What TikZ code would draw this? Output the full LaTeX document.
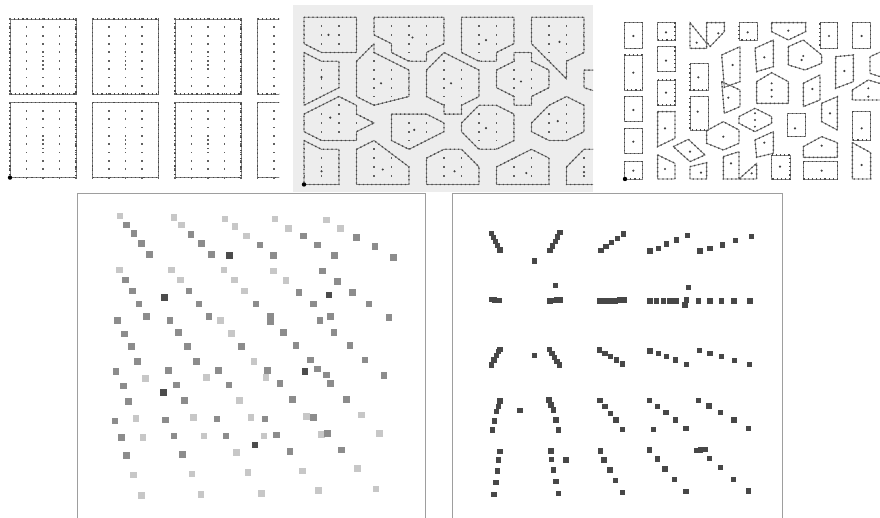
\documentclass[tikz,border=0pt]{standalone}
\usepackage{tikz}
\tikzset{
  griddot/.style={fill=black!62},
  celledge/.style={draw=black!50, line width=0.9pt,
                   postaction={draw=black!72, line width=1.4pt, dash pattern=on 1.2pt off 3pt}},
  seed/.style={fill=black!75},
  origin/.style={fill=black},
  framebox/.style={draw=black!38, line width=0.9pt},
  blob/.style={fill=black!72}
}
\newcommand{\vcell}[1]{%
  \begin{scope}
    \clip #1 -- cycle;
    \foreach \i in {0,...,16}{\foreach \j in {0,...,19}{%
      \fill[griddot] (\i,\j) ++(-0.9pt,-0.9pt) rectangle ++(1.8pt,1.8pt);}}
  \end{scope}
  \draw[celledge] #1 -- cycle;}
\newcommand{\pcell}[2]{\draw[celledge] #1 -- cycle; \fill[seed] #2 circle (1.2pt);}

\begin{document}
\begin{tikzpicture}[x=1pt, y=-1pt]
  \useasboundingbox (0,0) rectangle (880,518);

  \begin{scope}
    \clip (0,0) rectangle (279,190);
    \foreach \k in {0,...,3}{\foreach \m in {0,1}{
      \draw[celledge] ({10+82.5*\k},{19+83.5*\m}) rectangle ++(66,75.2);
      \foreach \e in {4.5,5.5}
        \fill[griddot] ({10+82.5*\k+33},{19+83.5*\m+8.35*\e}) ++(-0.9pt,-0.9pt) rectangle ++(1.8pt,1.8pt);
    }}
    \foreach \i in {0,...,16}{\foreach \j in {0,...,19}{
      \fill[griddot] ({10+16.5*\i},{19+8.35*\j}) ++(-0.9pt,-0.9pt) rectangle ++(1.8pt,1.8pt);}}
    \fill[origin] (10,177.6) circle (2.2pt);
  \end{scope}

  \fill[black!7] (293,5) rectangle (593,192);
  \begin{scope}
    \clip (293,5) rectangle (593,192);
    \begin{scope}[shift={(304,17.3)}, x=17.5pt, y=-8.8pt]
      \vcell{(0,0)--(3,0)--(3,4)--(1,4)--(0,3)}
      \vcell{(4,0)--(8,0)--(8,3)--(7,4)--(7,5)--(6,5)--(5,4)--(5,3)--(4,2)}
      \vcell{(9,0)--(12,0)--(12,3)--(11,4)--(11,5)--(10,5)--(9,4)}
      \vcell{(13,0)--(16,0)--(16,4)--(15,5)--(15,7)--(13,3)}
      \vcell{(0,4)--(1,5)--(2,5)--(2,8)--(0,10)}
      \vcell{(3,5)--(4,3)--(4,4)--(6,6)--(6,9)--(4,10)--(3,9)}
      \vcell{(7,6)--(8,4)--(10,6)--(10,9)--(9,10)--(9,11)--(8,11)--(8,10)--(7,9)}
      \vcell{(11,6)--(12,5)--(12,4)--(13,4)--(13,5)--(14,6)--(14,8)--(13,9)--(13,10)--(12,10)--(12,9)--(11,8)}
      \vcell{(16.8,6)--(16,6)--(16,8)--(16.8,8.5)}
      \vcell{(0,11)--(2,9)--(3,10)--(3,11)--(4,12)--(3,13)--(3,14)--(1,14)--(0,13)}
      \vcell{(5,11)--(7,11)--(8,12)--(8,13)--(6,15)--(5,14)}
      \vcell{(9,12)--(10,10)--(11,10)--(12,11)--(12,14)--(11,15)--(10,15)--(9,13)}
      \vcell{(13,12)--(14,10)--(15,9)--(16,10)--(16,13)--(15,14)--(14,14)--(13,13)}
      \vcell{(0,14)--(1,15)--(2,15)--(2,19)--(0,19)}
      \vcell{(3,15)--(4,14)--(6,17)--(6,19)--(3,19)}
      \vcell{(7,16)--(8,15)--(9,15)--(10,17)--(10,19)--(7,19)}
      \vcell{(11,17)--(13,15)--(14,16)--(14,19)--(11,19)}
      \vcell{(15,17)--(16,15)--(16.8,15)--(16.8,19)--(15,19)}
      \foreach \sx/\sy in {1.4/2, 6.2/2.3, 10.4/2.6, 14.6/2.8, 1/6.8, 4.4/7.5, 8.4/7.5, 12.4/7.3,
                           1.5/11.4, 6.3/12.8, 10.4/12.6, 14.5/11.8, 1/17.5, 4.5/17.3, 8.6/17.5, 12.7/17.7, 16/17.6}
        \fill[seed] (\sx,\sy) circle (1.2pt);
      \fill[origin] (0,19) circle (2.2pt);
    \end{scope}
  \end{scope}

  \begin{scope}
    \clip (600,0) rectangle (880,190);
    \begin{scope}[shift={(595,0)}, x=0.3333pt, y=-0.3333pt]
      \pcell{(88,68)--(142,68)--(142,145)--(88,145)}{(115,108)}
      \pcell{(188,68)--(240,68)--(240,120)--(188,120)}{(213,97)}
      \pcell{(285,68)--(335,130)--(335,145)--(285,145)}{(305,128)}
      \pcell{(335,68)--(388,68)--(388,95)--(345,140)--(335,125)}{(370,100)}
      \pcell{(432,68)--(487,68)--(487,120)--(432,120)}{(458,97)}
      \pcell{(530,68)--(632,68)--(632,95)--(580,120)--(530,95)}{(580,92)}
      \pcell{(675,68)--(727,68)--(727,145)--(675,145)}{(702,108)}
      \pcell{(772,68)--(827,68)--(827,145)--(772,145)}{(800,108)}
      \pcell{(88,165)--(142,165)--(142,270)--(88,270)}{(115,218)}
      \pcell{(188,140)--(240,140)--(240,215)--(188,215)}{(213,182)}
      \pcell{(285,190)--(340,190)--(340,270)--(285,270)}{(310,232)}
      \pcell{(380,165)--(435,140)--(435,245)--(388,262)}{(413,195)}
      \pcell{(480,145)--(535,120)--(535,200)--(485,215)}{(508,172)}
      \pcell{(580,140)--(625,120)--(680,165)--(680,190)--(630,210)--(580,195)}{(620,180)}
      \pcell{(722,170)--(775,165)--(775,245)--(722,265)}{(748,213)}
      \pcell{(870,150)--(825,170)--(825,220)--(870,235)}{(900,0)}
      \pcell{(88,290)--(142,290)--(142,365)--(88,365)}{(115,330)}
      \pcell{(188,240)--(240,240)--(240,315)--(188,315)}{(213,278)}
      \pcell{(285,290)--(340,290)--(340,390)--(285,390)}{(308,335)}
      \pcell{(380,245)--(435,270)--(435,320)--(388,340)}{(400,293)}
      \pcell{(485,245)--(530,218)--(580,245)--(580,310)--(485,310)}{(530,270)}
      \pcell{(625,250)--(675,225)--(675,300)--(625,320)}{(652,267)}
      \pcell{(680,310)--(727,290)--(727,390)--(680,365)}{(705,340)}
      \pcell{(772,270)--(820,240)--(870,255)--(870,300)--(772,300)}{(820,290)}
      \pcell{(88,385)--(142,385)--(142,460)--(88,460)}{(115,425)}
      \pcell{(188,335)--(240,335)--(240,415)--(188,440)}{(210,385)}
      \pcell{(235,440)--(280,418)--(330,465)--(285,485)}{(285,455)}
      \pcell{(335,392)--(385,365)--(432,390)--(432,430)--(385,450)--(335,430)}{(385,410)}
      \pcell{(432,350)--(480,325)--(530,350)--(530,370)--(480,395)--(432,370)}{(480,360)}
      \pcell{(480,420)--(535,395)--(535,460)--(485,472)}{(508,428)}
      \pcell{(578,340)--(632,340)--(632,410)--(578,410)}{(600,385)}
      \pcell{(625,440)--(680,410)--(727,428)--(727,472)--(625,472)}{(680,437)}
      \pcell{(772,335)--(827,335)--(827,420)--(772,420)}{(800,385)}
      \pcell{(88,485)--(142,485)--(142,537)--(88,537)}{(115,512)}
      \pcell{(188,465)--(240,490)--(240,537)--(188,537)}{(210,507)}
      \pcell{(285,500)--(335,488)--(335,537)--(285,537)}{(318,518)}
      \pcell{(385,470)--(432,455)--(432,537)--(385,537)}{(408,490)}
      \pcell{(432,537)--(485,490)--(485,537)}{(470,520)}
      \pcell{(530,465)--(585,465)--(585,537)--(530,537)}{(555,500)}
      \pcell{(625,485)--(727,485)--(727,537)--(625,537)}{(680,512)}
      \pcell{(772,428)--(827,458)--(827,537)--(772,537)}{(800,495)}
      \foreach \sx/\sy in {530/250, 530/290, 480/340, 480/380, 625/168, 820/265}
        \fill[seed] (\sx,\sy) circle (1.1pt);
      \fill[origin] (90,537) circle (2.2pt);
    \end{scope}
  \end{scope}

  \draw[framebox] (77,520) |- (425,193) -- (425,520);
  \begin{scope}[shift={(75,190)}, x=0.3333pt, y=-0.3333pt]
    \foreach \px/\py/\g in {
      135/78/22, 155/105/45, 177/130/45, 200/160/45, 223/193/45,
      297/83/22, 320/105/22, 348/133/45, 380/160/45, 410/193/45, 463/197/70,
      450/87/22, 480/110/22, 515/138/22, 555/165/45, 595/197/45,
      600/87/22, 640/115/22, 685/138/45, 727/165/45, 778/197/45,
      755/90/22, 797/115/22, 845/142/45, 900/170/45, 955/202/45,
      133/240/22, 152/270/45, 172/303/45, 192/342/45, 215/380/45, 268/323/70,
      290/240/22, 317/270/22, 342/303/45, 372/342/45, 402/380/45, 437/392/22,
      447/240/22, 478/270/22, 508/303/22, 543/342/45, 587/380/45, 587/395/45,
      595/243/22, 633/272/22, 672/308/45, 715/342/45, 762/315/70, 735/392/45,
      742/243/45, 787/275/45, 832/307/45, 882/342/45, 942/382/45, 767/380/45,
      128/392/45, 148/432/45, 170/470/45, 187/515/45,
      285/392/45, 310/428/45, 337/470/45, 365/515/45,
      470/430/22, 500/470/45, 537/515/22,
      625/428/45, 663/467/45, 707/510/45, 777/428/45, 825/467/45, 870/510/45,
      123/545/45, 145/588/45, 160/635/45, 211/565/22,
      280/542/45, 305/585/45, 328/632/45, 265/607/70,
      395/562/22, 430/542/45, 462/585/45, 493/632/22,
      578/542/45, 573/562/22, 615/580/45, 652/628/45,
      690/545/70, 727/537/45, 755/555/45, 767/580/45, 815/628/45, 927/557/45,
      120/693/45, 140/742/45, 155/797/45, 176/855/22, 200/917/22,
      183/686/22, 204/742/22,
      272/690/45, 297/738/45, 322/793/45, 351/852/22, 378/913/22,
      355/683/22, 387/738/22,
      426/687/45, 453/738/45, 540/765/70, 485/788/22, 519/848/22, 560/910/22,
      528/683/22, 570/687/45, 567/738/22, 605/735/45, 645/785/45, 683/843/22, 731/902/22,
      694/680/22, 715/683/45, 740/733/22, 758/730/45, 800/780/45, 847/835/22, 903/897/22,
      860/675/22, 914/730/22}
      \fill[black!\g] (\px,\py) ++(-3.3pt,-3.3pt) rectangle ++(6.6pt,6.6pt);
  \end{scope}

  \draw[framebox] (452,520) |- (782,193) -- (782,520);
  \begin{scope}[shift={(450,190)}, x=0.3333pt, y=-0.3333pt]
    \foreach \px/\py in {
      125/130, 131/143, 137/155, 143/167, 150/180,
      330/127, 323/141, 316/155, 308/168, 300/182, 253/213,
      453/182, 468/170, 485/158, 503/146, 520/132,
      600/183, 625/175, 650/162, 680/150, 713/137,
      750/183, 780/175, 817/165, 857/152, 905/140,
      125/328, 133/330, 140/332, 148/332,
      317/287, 300/333, 310/332, 320/330, 330/330,
      450/333, 465/333, 480/333, 495/333, 510/330, 522/330,
      600/333, 620/333, 640/333, 660/333, 678/333, 705/345, 710/330, 716/293,
      745/333, 780/333, 815/333, 852/333, 900/333,
      125/525, 132/510, 139/497, 146/485, 150/478, 253/497,
      298/478, 306/490, 314/502, 321/514, 328/525,
      448/480, 465/490, 482/500, 500/510, 518/522,
      600/483, 625/490, 650/500, 677/510, 710/523,
      748/482, 780/490, 815/500, 853/512, 898/523,
      150/633, 145/650, 140/665, 133/693, 128/720, 210/662,
      297/630, 303/645, 310/660, 318/690, 325/720,
      450/632, 465/650, 482/670, 498/690, 518/718,
      598/632, 622/650, 648/668, 677/690, 708/715, 610/718,
      745/632, 777/648, 812/668, 852/690, 895/715,
      150/785, 146/810, 142/843, 138/877, 132/913,
      303/783, 305/808, 310/840, 318/875, 325/910, 348/810,
      452/783, 462/810, 480/840, 497/872, 518/908,
      598/780, 622/807, 645/837, 673/868, 708/905,
      740/782, 752/780, 765/778, 778/805, 812/832, 850/868, 895/903}
      \fill[blob] (\px,\py) ++(-2.7pt,-2.7pt) rectangle ++(5.4pt,5.4pt);
  \end{scope}
\end{tikzpicture}
\end{document}
